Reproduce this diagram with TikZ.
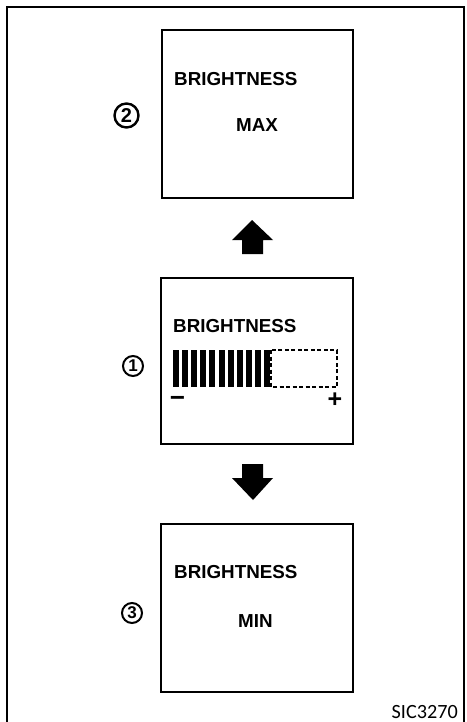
\documentclass[tikz,border=0pt]{standalone}
\usepackage{fontspec}
\setmainfont{Liberation Sans}
\newfontfamily\codefont{Carlito}
\begin{document}
\begin{tikzpicture}[x=1pt,y=-1pt,
  screen/.style={draw,line width=2pt},
  label/.style={font=\fontsize{18.8}{20}\selectfont\bfseries,anchor=base west,inner sep=0pt},
  num/.style={draw,circle,line width=2pt,inner sep=0pt,minimum size=20pt,font=\fontsize{17}{18}\selectfont\bfseries},
  blockarrow/.style={fill=black,draw=none}]
\useasboundingbox (0,0) rectangle (466,722);
\fill[white] (0,0) rectangle (466,722);
% frame (open at the bottom)
\draw[line width=2.2pt] (7,722) -- (7,7) -- (464,7) -- (464,722);
% screens
\node[screen,minimum width=191pt,minimum height=168pt,anchor=north west,inner sep=0pt] (s2) at (161,29) {};
\node[screen,minimum width=192pt,minimum height=166pt,anchor=north west,inner sep=0pt] (s1) at (160,277) {};
\node[screen,minimum width=192pt,minimum height=168pt,anchor=north west,inner sep=0pt] (s3) at (160,523) {};
% texts
\node[label] (t2) at (174,86) {BRIGHTNESS};
\node[label] (v2) at (236,132) {MAX};
\node[label] (t1) at (173,332) {BRIGHTNESS};
\node[label] (t3) at (174,578) {BRIGHTNESS};
\node[label] (v3) at (238,627) {MIN};
% bar gauge
\foreach \i in {0,...,10}{\fill (173+\i*9.1,350) rectangle ++(6,37);}
\draw[line width=1.5pt,dash pattern=on 4pt off 2.5pt] (271,350) rectangle (337,387);
\node[font=\fontsize{26}{28}\selectfont\bfseries,inner sep=0pt] (mn) at (177.5,401) {−};
\node[font=\fontsize{25}{27}\selectfont\bfseries,inner sep=0pt] (pl) at (335,400.5) {+};
% circled numbers
\node[num,minimum size=24pt,line width=2.4pt,font=\fontsize{20}{22}\selectfont\bfseries] (n2) at (126.5,115.5) {2};
\node[num] (n1) at (133,366) {1};
\node[num] (n3) at (132,613) {3};
% block arrows
\fill[blockarrow] (252,220) -- (273,240) -- (263,240) -- (263,254) -- (242,254) -- (242,240) -- (232,240) -- cycle;
\fill[blockarrow] (253,500) -- (273,478) -- (263,478) -- (263,464) -- (242,464) -- (242,478) -- (232,478) -- cycle;
% code
\node[font=\fontsize{20.2}{22}\selectfont\codefont,anchor=base east,inner sep=0pt] (code) at (458,718) {SIC3270};
\end{tikzpicture}
\end{document}
